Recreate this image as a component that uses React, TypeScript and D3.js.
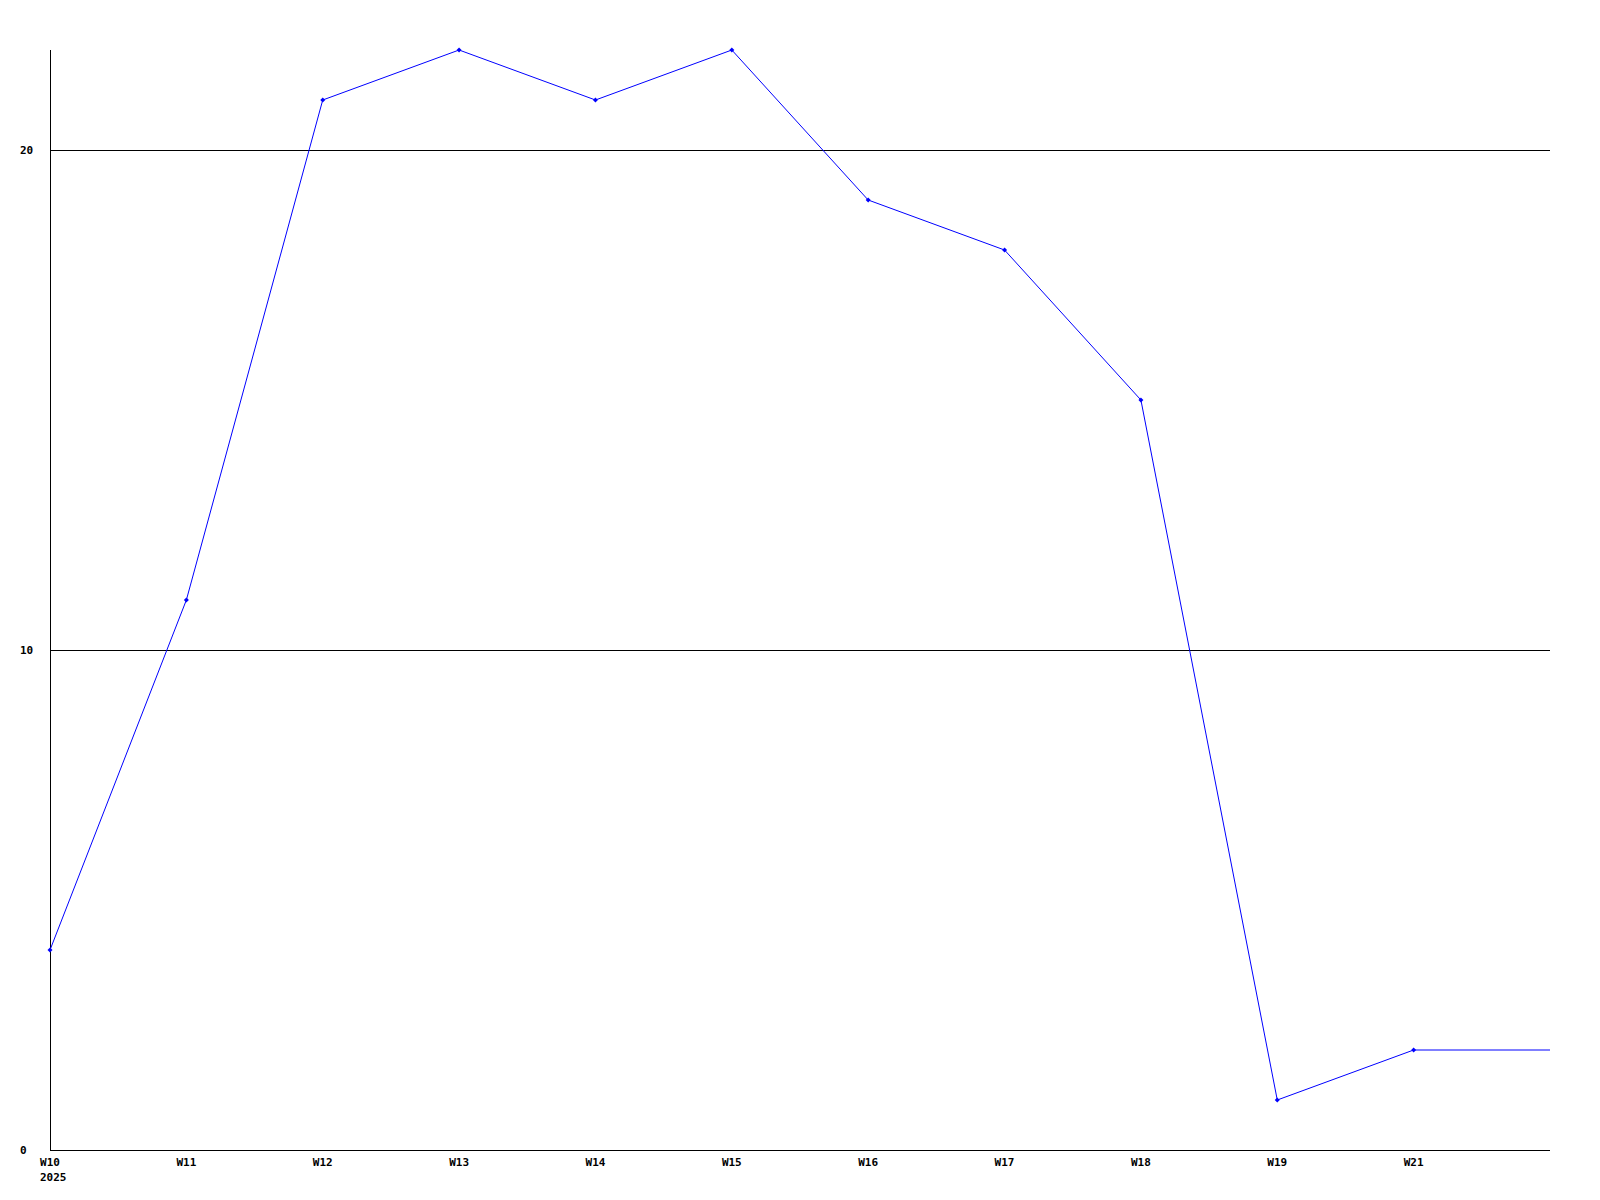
import React from "react";
import * as d3 from "d3";

const weekLabels = ["W10", "W11", "W12", "W13", "W14", "W15", "W16", "W17", "W18", "W19", "W21"];
const values = [4, 11, 21, 22, 21, 22, 19, 18, 15, 1, 2];
const yTicks = [0, 10, 20];
const yearLabel = "2025";

export default function App() {
  const W = 1600, H = 1200;
  const left = 50, right = 1550, top = 50, bottom = 1150;
  const x = d3.scaleLinear().domain([0, weekLabels.length]).range([left, right]);
  const y = d3.scaleLinear().domain([0, 22]).range([bottom, top]);
  const pts: [number, number][] = values.map((v, i) => [x(i), y(v)]);
  const ext: [number, number][] = [...pts, [x(weekLabels.length), y(values[values.length - 1])]];
  const line = d3.line<[number, number]>().x(d => d[0]).y(d => d[1]);
  const font = "'DejaVu Sans Mono', monospace";
  return (
    <svg width={W} height={H} style={{ position: "absolute", left: 0, top: 0, background: "#fff" }}>
      {yTicks.filter(t => t > 0).map(t => (
        <line key={t} x1={left} x2={right} y1={Math.round(y(t)) + 0.5} y2={Math.round(y(t)) + 0.5} stroke="#000" strokeWidth={1} />
      ))}
      <line x1={left + 0.5} x2={left + 0.5} y1={top} y2={bottom} stroke="#000" strokeWidth={1} />
      <line x1={left} x2={right} y1={bottom + 0.5} y2={bottom + 0.5} stroke="#000" strokeWidth={1} />
      {yTicks.map(t => (
        <text key={t} x={20} y={y(t)} dy="0.35em" fontFamily={font} fontWeight="bold" fontSize={11} fill="#000">{t}</text>
      ))}
      {weekLabels.map((w, i) => (
        <text key={w} x={x(i)} y={1166} textAnchor="middle" fontFamily={font} fontWeight="bold" fontSize={11} fill="#000">{w}</text>
      ))}
      <text x={40} y={1181} fontFamily={font} fontWeight="bold" fontSize={11} fill="#000">{yearLabel}</text>
      <path d={line(ext) || ""} fill="none" stroke="#0000ff" strokeWidth={1} />
      {pts.map((p, i) => (
        <path key={i} d={`M${p[0] - 2.5},${p[1]}L${p[0]},${p[1] - 2.5}L${p[0] + 2.5},${p[1]}L${p[0]},${p[1] + 2.5}Z`} fill="#0000ff" />
      ))}
    </svg>
  );
}
